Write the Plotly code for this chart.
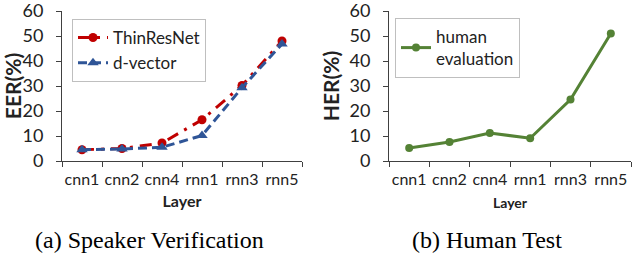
import plotly.graph_objects as go

layers = ["cnn1", "cnn2", "cnn4", "rnn1", "rnn3", "rnn5"]
thinresnet = [4.5, 5.0, 7.2, 16.5, 30.2, 48.0]
dvector = [4.5, 4.8, 5.5, 10.2, 29.3, 46.8]
human = [5.2, 7.6, 11.2, 9.1, 24.6, 51.0]
yticks = [0, 10, 20, 30, 40, 50, 60]

W, H = 632, 262
def px(x): return x / W
def py(y): return 1 - y / H

fig = go.Figure()
fig.add_trace(go.Scatter(x=layers, y=thinresnet, name="ThinResNet", mode="lines+markers",
                         line=dict(color="#C00000", width=3, dash="12px,7px,3px,7px"),
                         marker=dict(symbol="circle", size=9, color="#C00000"),
                         xaxis="x", yaxis="y", legend="legend"))
fig.add_trace(go.Scatter(x=layers, y=dvector, name="d-vector", mode="lines+markers",
                         line=dict(color="#2F5597", width=3, dash="9px,5px"),
                         marker=dict(symbol="triangle-up", size=10, color="#2F5597"),
                         xaxis="x", yaxis="y", legend="legend"))
fig.add_trace(go.Scatter(x=layers, y=human, name="human<br>evaluation", mode="lines+markers",
                         line=dict(color="#548235", width=3),
                         marker=dict(symbol="circle", size=8, color="#548235"),
                         xaxis="x2", yaxis="y2", legend="legend2"))

FONT = "Lato, Open Sans, sans-serif"
tickfont = dict(family=FONT, size=16, color="#222")
axcommon = dict(showgrid=False, zeroline=False, showline=True, linecolor="#404040", linewidth=1,
                ticks="outside", ticklen=5, tickcolor="#404040", ticklabeloverflow="allow",
                automargin=False)
xax = dict(axcommon, type="category", tickson="boundaries", range=[-0.5, 5.5], tickfont=tickfont,
           ticklabelstandoff=4, tickangle=0)
yax = dict(axcommon, range=[0, 60], tickvals=yticks, tickfont=dict(tickfont, size=18),
           ticklabelstandoff=9)

fig.update_layout(
    width=W, height=H, margin=dict(l=0, r=0, t=0, b=0, autoexpand=False),
    paper_bgcolor="white", plot_bgcolor="white", showlegend=True,
    xaxis=dict(xax, domain=[px(62), px(302)], anchor="y",
               title=dict(text="<b>Layer</b>", font=dict(family=FONT, size=16, color="#222"), standoff=8)),
    yaxis=dict(yax, domain=[py(161), py(11)], anchor="x",
               title=dict(text="<b>EER(%)</b>", font=dict(family=FONT, size=21, color="#222"), standoff=4)),
    xaxis2=dict(xax, domain=[px(389), px(631)], anchor="y2",
                title=dict(text="<b>Layer</b>", font=dict(family=FONT, size=14, color="#222"), standoff=10)),
    yaxis2=dict(yax, domain=[py(161), py(11)], anchor="x2",
                title=dict(text="<b>HER(%)</b>", font=dict(family=FONT, size=21, color="#222"), standoff=4)),
    legend=dict(x=px(72), y=py(19), xanchor="left", yanchor="top", bordercolor="#BFBFBF", borderwidth=1,
                bgcolor="white", font=dict(family=FONT, size=17, color="#222"),
                tracegroupgap=0, itemwidth=30),
    legend2=dict(x=px(395), y=py(18), xanchor="left", yanchor="top", bordercolor="#BFBFBF", borderwidth=1,
                 bgcolor="white", font=dict(family=FONT, size=17, color="#222"), itemwidth=30),
    annotations=[
        dict(text="(a) Speaker Verification", x=px(149), y=py(240), xref="paper", yref="paper",
             xanchor="center", yanchor="middle",
             showarrow=False, font=dict(family="Liberation Serif, serif", size=24, color="black")),
        dict(text="(b) Human Test", x=px(487), y=py(240), xref="paper", yref="paper",
             xanchor="center", yanchor="middle",
             showarrow=False, font=dict(family="Liberation Serif, serif", size=24, color="black")),
    ],
)
fig.write_html("out.html", config={"displayModeBar": False},
               post_script="document.body.style.margin='0';document.body.style.overflow='hidden';")
